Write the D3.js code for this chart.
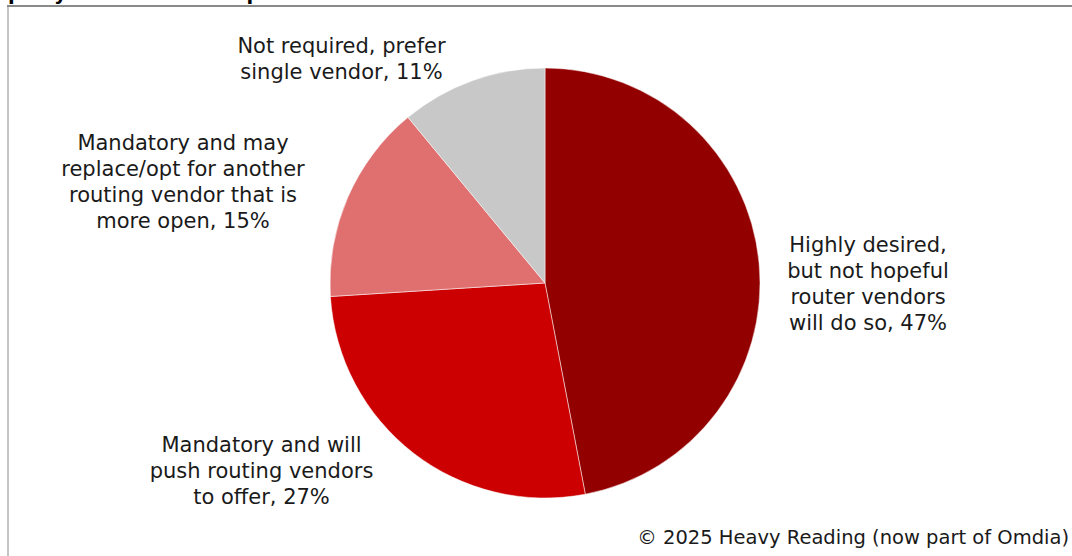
<!DOCTYPE html>
<html>
<head>
<meta charset="utf-8">
<script src="https://cdn.jsdelivr.net/npm/d3@7/dist/d3.min.js"></script>
<style>
  html, body { margin: 0; padding: 0; background: #fff; overflow: hidden; }
  svg { display: block; }
</style>
</head>
<body>
<svg id="chart" width="1072" height="556"></svg>
<script>
// Survey answers, clockwise from 12 o'clock
const categories = [
  "Highly desired, but not hopeful router vendors will do so",
  "Mandatory and will push routing vendors to offer",
  "Mandatory and may replace/opt for another routing vendor that is more open",
  "Not required, prefer single vendor"
];
const shares = [47, 27, 15, 11];
const labelLines = [
  ["Highly desired,", "but not hopeful", "router vendors", "will do so, 47%"],
  ["Mandatory and will", "push routing vendors", "to offer, 27%"],
  ["Mandatory and may", "replace/opt for another", "routing vendor that is", "more open, 15%"],
  ["Not required, prefer", "single vendor, 11%"]
];
const sliceColors = ["#920000", "#CC0000", "#E07070", "#C8C8C8"];
const titleText = "party router vendor options";
const sourceText = "\u00A9 2025 Heavy Reading (now part of Omdia)";

const svg = d3.select("#chart");
const W = 1072, H = 556;
const cx = 545, cy = 283, radius = 215;
const fontFamily = "'DejaVu Sans', Verdana, sans-serif";
const lineHeight = 26;

// Title line sitting above the frame (only its lower edge shows)
svg.append("text")
  .attr("x", 8).attr("y", -0.5)
  .attr("font-family", fontFamily)
  .attr("font-size", 19.5).attr("font-weight", "bold")
  .attr("fill", "#000")
  .text(titleText);

// Chart frame
svg.append("line")
  .attr("x1", 7).attr("x2", W).attr("y1", 6).attr("y2", 6)
  .attr("stroke", "#8a8a8a").attr("stroke-width", 2);
svg.append("line")
  .attr("x1", 8).attr("x2", 8).attr("y1", 5).attr("y2", H)
  .attr("stroke", "#8a8a8a").attr("stroke-width", 1);

const pie = d3.pie().sort(null).value(d => d)
  .startAngle(0).endAngle(2 * Math.PI);
const arcs = pie(shares);
const arc = d3.arc().innerRadius(0).outerRadius(radius);
const color = d3.scaleOrdinal().domain(d3.range(shares.length)).range(sliceColors);

const g = svg.append("g").attr("transform", `translate(${cx},${cy})`);
g.selectAll("path.slice")
  .data(arcs)
  .join("path")
  .attr("class", "slice")
  .attr("d", arc)
  .attr("fill", (d, i) => color(i))
  .attr("stroke", "#fff")
  .attr("stroke-width", 0.5);

// Label placement: centre x and first baseline, relative to the pie centre
const labelOffsets = [
  [323, -31],
  [-283.5, 168.5],
  [-362, -133],
  [-203.5, -230]
];

const labels = g.selectAll("text.lbl")
  .data(arcs)
  .join("text")
  .attr("class", "lbl")
  .attr("font-family", fontFamily)
  .attr("font-size", 21)
  .attr("fill", "#1a1a1a")
  .attr("text-anchor", "middle");

labels.each(function(d, i) {
  const [ox, oy] = labelOffsets[i];
  d3.select(this).selectAll("tspan")
    .data(labelLines[i])
    .join("tspan")
    .attr("x", ox)
    .attr("y", (t, j) => oy + j * lineHeight)
    .text(t => t);
});

// Source note
svg.append("text")
  .attr("x", 1069).attr("y", 544)
  .attr("text-anchor", "end")
  .attr("font-family", fontFamily)
  .attr("font-size", 19.5)
  .attr("fill", "#1a1a1a")
  .text(sourceText);
</script>
</body>
</html>
